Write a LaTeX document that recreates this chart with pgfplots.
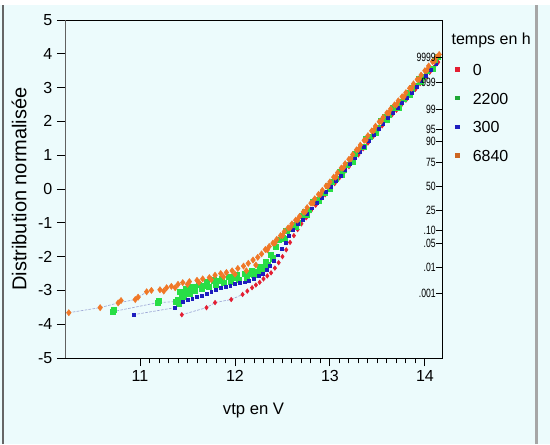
\documentclass[border=0pt]{standalone}
\usepackage{fontspec}
\setmainfont{Liberation Sans}
\usepackage{graphicx}
\usepackage{pgfplots}
\pgfplotsset{compat=1.18}
\definecolor{bgc}{RGB}{236,251,252}
\definecolor{cred}{RGB}{228,30,50}
\definecolor{cgreen}{RGB}{40,222,70}
\definecolor{cblue}{RGB}{30,30,190}
\definecolor{corange}{RGB}{240,120,40}
\definecolor{ctail}{RGB}{160,170,215}
\newcommand{\nl}[1]{\scalebox{0.72}[1]{#1}}
\begin{document}
\begin{tikzpicture}
\fill[bgc] (0,0) rectangle (412.5pt,333pt);
\fill[white] (0,329.25pt) rectangle (412.5pt,333pt);
\draw[gray!80!black, line width=1.5pt] (2.25pt,0) -- (2.25pt,329.25pt);
\draw[gray!70, line width=2.2pt] (402.5pt,0) -- (402.5pt,329.25pt);
\begin{axis}[
  at={(48.75pt,64.5pt)}, anchor=south west,
  scale only axis, width=282.75pt, height=253.5pt,
  xmin=10.21, xmax=14.18, ymin=-5, ymax=5,
  axis line style={black, line width=0.7pt},
  xtick={11,12,13,14}, xticklabels={11,12,13,14},
  ytick={-5,-4,-3,-2,-1,0,1,2,3,4,5},
  yticklabels={-5,-4,-3,-2,-1,0,1,2,3,4,5},
  minor x tick num=9,
  xtick pos=bottom, ytick pos=left,
  tick align=outside, major tick length=6pt, minor tick length=4pt,
  tick style={black, line width=0.7pt},
  ticklabel style={font=\fontsize{12}{14}\selectfont},
  xlabel={vtp en V}, ylabel={Distribution normalisée},
  xlabel style={at={(axis description cs:0.5,-0.154)}, anchor=center, font=\fontsize{12.5}{14}\selectfont},
  ylabel style={at={(axis description cs:-0.122,0.5)}, anchor=center, font=\fontsize{15}{16}\selectfont},
  legend style={at={(rel axis cs:1.035,0.872)}, anchor=north west, draw=none, fill=none,
    inner sep=0pt, row sep=12.5pt, font=\fontsize{12}{14}\selectfont,
    nodes={inner sep=0pt, text height=9pt, text depth=0pt}},
  legend cell align=left,
]
% tail connecting lines
\addplot[ctail, line width=0.5pt, dash pattern=on 2pt off 1pt, forget plot] coordinates {(11.44,-3.72) (11.70,-3.51) (11.79,-3.36) (11.96,-3.27) (12.08,-3.12)};
\addplot[ctail, line width=0.5pt, dash pattern=on 2pt off 1pt, forget plot] coordinates {(10.93,-3.72) (11.37,-3.51) (11.45,-3.33)};
\addplot[ctail, line width=0.5pt, dash pattern=on 2pt off 1pt, forget plot] coordinates {(10.71,-3.63) (11.19,-3.36) (11.38,-3.33) (11.42,-3.20)};
\addplot[ctail, line width=0.5pt, dash pattern=on 2pt off 1pt, forget plot] coordinates {(10.25,-3.66) (10.58,-3.51) (10.77,-3.37) (10.95,-3.27) (11.07,-3.04)};
% 0 h
\addplot[only marks, mark=diamond*, mark size=1.7pt, mark options={draw=cred, fill=cred},
  legend image code/.code={\fill[cred, draw=none] (0pt,-1.6pt) rectangle (3.2pt,1.6pt); \path[draw=none, fill=none] (0pt,0pt) -- (13pt,0pt);}]
coordinates {
(11.44,-3.72) (11.70,-3.51) (11.79,-3.36) (11.96,-3.27) (12.08,-3.12) (12.13,-3.02) (12.18,-2.92)
(12.22,-2.84) (12.26,-2.76) (12.30,-2.66) (12.34,-2.57) (12.38,-2.48) (12.42,-2.34) (12.46,-2.18)
(12.50,-2.00) (12.54,-1.80) (12.58,-1.58) (12.62,-1.38) (12.66,-1.20) (12.70,-1.03)
(12.75,-0.85) (12.80,-0.64) (12.85,-0.48) (12.90,-0.32) (12.95,-0.17) (13.00,-0.01) (13.05,0.16)
(13.10,0.33) (13.15,0.50) (13.20,0.66) (13.25,0.84) (13.30,1.01) (13.35,1.19) (13.40,1.36)
(13.45,1.54) (13.50,1.71) (13.55,1.87) (13.60,2.03) (13.65,2.18) (13.70,2.33) (13.75,2.48)
(13.80,2.63) (13.85,2.79) (13.90,2.95) (13.95,3.12) (14.00,3.28) (14.05,3.45) (14.10,3.62) (14.14,3.75)
};
\addlegendentry{0}
% 2200 h
\addplot[only marks, mark=square*, mark size=1.9pt, mark options={draw=cgreen, fill=cgreen},
  legend image code/.code={\fill[cgreen!75!black, draw=none] (0pt,-1.6pt) rectangle (3.2pt,1.6pt); \path[draw=none, fill=none] (0pt,0pt) -- (13pt,0pt);}]
coordinates {
(10.71,-3.63) (10.72,-3.58) (11.19,-3.36) (11.20,-3.30) (11.38,-3.33)
(11.40,-3.28) (11.42,-3.05) (11.46,-3.18) (11.48,-2.96) (11.52,-3.10) (11.55,-2.88) (11.58,-3.02)
(11.62,-2.82) (11.65,-2.95) (11.70,-2.76) (11.72,-2.90) (11.78,-2.70) (11.80,-2.84) (11.86,-2.65)
(11.88,-2.78) (11.94,-2.60) (11.96,-2.73) (12.02,-2.55) (12.04,-2.68) (12.10,-2.50) (12.12,-2.62)
(12.18,-2.43) (12.20,-2.55) (12.26,-2.30) (12.28,-2.42) (12.32,-2.15) (12.34,-2.25) (12.38,-1.95)
(12.40,-2.05) (12.43,-1.72)
(11.41,-3.38) (11.44,-3.12) (11.50,-3.02) (11.56,-2.95) (11.68,-2.86) (11.84,-2.72) (12.00,-2.62)
(12.16,-2.52) (12.24,-2.45) (12.30,-2.33)
(12.46,-1.49) (12.50,-1.44) (12.54,-1.23) (12.58,-1.19) (12.62,-1.05) (12.66,-0.99) (12.70,-0.80)
(12.74,-0.68) (12.78,-0.61) (12.82,-0.39) (12.86,-0.33) (12.90,-0.18) (12.94,-0.11) (12.98,0.09)
(13.02,0.22) (13.06,0.29) (13.10,0.52) (13.14,0.58) (13.18,0.73) (13.22,0.82) (13.26,1.04)
(13.30,1.17) (13.34,1.25) (13.38,1.48) (13.42,1.55) (13.46,1.71) (13.50,1.80) (13.54,2.01)
(13.58,2.13) (13.62,2.19) (13.66,2.40) (13.70,2.45) (13.74,2.59) (13.78,2.66) (13.82,2.86)
(13.86,2.98) (13.90,3.05) (13.94,3.27) (13.98,3.33) (14.02,3.49) (14.06,3.57) (14.10,3.79) (14.14,3.91)
(12.52,-1.46) (12.64,-1.12) (12.76,-0.76) (12.88,-0.35) (13.00,0.01) (13.12,0.42) (13.24,0.82)
(13.36,1.24) (13.48,1.66) (13.60,2.05) (13.72,2.41) (13.84,2.78) (13.96,3.17) (14.08,3.57)
};
\addlegendentry{2200}
% 300 h
\addplot[only marks, mark=square*, mark size=1.1pt, mark options={draw=cblue, fill=cblue},
  legend image code/.code={\fill[cblue, draw=none] (0pt,-1.6pt) rectangle (3.2pt,1.6pt); \path[draw=none, fill=none] (0pt,0pt) -- (13pt,0pt);}]
coordinates {
(10.93,-3.72) (11.37,-3.51) (11.45,-3.33) (11.50,-3.28) (11.55,-3.24) (11.60,-3.20) (11.65,-3.15)
(11.70,-3.10) (11.75,-3.04) (11.80,-2.98) (11.85,-2.93) (11.90,-2.89) (11.95,-2.85) (12.00,-2.81)
(12.05,-2.78) (12.10,-2.76) (12.15,-2.72) (12.20,-2.66) (12.25,-2.58) (12.29,-2.50) (12.33,-2.40)
(12.37,-2.28) (12.41,-2.13) (12.45,-1.96) (12.49,-1.78) (12.53,-1.58) (12.57,-1.39)
(12.61,-1.20) (12.66,-1.04) (12.71,-0.90) (12.76,-0.73) (12.81,-0.57) (12.86,-0.41) (12.91,-0.25)
(12.96,-0.09) (13.01,0.06) (13.06,0.23) (13.11,0.40) (13.16,0.57) (13.21,0.74) (13.26,0.91)
(13.31,1.09) (13.36,1.26) (13.41,1.44) (13.46,1.61) (13.51,1.78) (13.56,1.94) (13.61,2.10)
(13.66,2.25) (13.71,2.40) (13.76,2.55) (13.81,2.70) (13.86,2.86) (13.91,3.02) (13.96,3.19)
(14.01,3.36) (14.06,3.52) (14.11,3.69)
};
\addlegendentry{300}
% 6840 h
\addplot[only marks, mark=diamond*, mark size=2.3pt, mark options={draw=corange, fill=corange},
  legend image code/.code={\fill[corange!85!black, draw=none] (0pt,-1.6pt) rectangle (3.2pt,1.6pt); \path[draw=none, fill=none] (0pt,0pt) -- (13pt,0pt);}]
coordinates {
(10.25,-3.66) (10.58,-3.51) (10.77,-3.37) (10.80,-3.30) (10.95,-3.27) (10.98,-3.20) (11.07,-3.04)
(11.12,-3.00) (11.21,-2.98) (11.28,-2.92) (11.33,-2.88) (11.40,-2.82) (11.45,-2.77) (11.52,-2.74)
(11.60,-2.70) (11.66,-2.66) (11.73,-2.62) (11.79,-2.55) (11.85,-2.50) (11.91,-2.47) (11.97,-2.42)
(12.03,-2.35) (12.09,-2.28) (12.14,-2.20) (12.19,-2.10) (12.24,-2.02) (12.28,-1.92)
(11.25,-3.02) (11.37,-2.92) (11.50,-2.82) (11.62,-2.76) (11.75,-2.68) (11.88,-2.60) (12.00,-2.52)
(12.12,-2.42) (12.22,-2.25)
(12.32,-1.79) (12.36,-1.70) (12.40,-1.60) (12.44,-1.49) (12.48,-1.38) (12.52,-1.26) (12.56,-1.15)
(12.60,-1.03) (12.64,-0.92) (12.68,-0.81) (12.72,-0.68) (12.76,-0.55) (12.80,-0.42) (12.84,-0.29)
(12.88,-0.16) (12.92,-0.04) (12.96,0.09) (13.00,0.21) (13.04,0.35) (13.08,0.48) (13.12,0.62)
(13.16,0.75) (13.20,0.88) (13.24,1.02) (13.28,1.16) (13.32,1.30) (13.36,1.44) (13.40,1.58)
(13.44,1.72) (13.48,1.86) (13.52,1.99) (13.56,2.12) (13.60,2.25) (13.64,2.37) (13.68,2.49)
(13.72,2.61) (13.76,2.73) (13.80,2.85) (13.84,2.98) (13.88,3.11) (13.92,3.24) (13.96,3.37)
(14.00,3.50) (14.04,3.64) (14.08,3.77) (14.12,3.90) (14.15,3.98)
(12.34,-1.80) (12.42,-1.60) (12.50,-1.38) (12.58,-1.15) (12.66,-0.92) (12.74,-0.68) (12.82,-0.42)
(12.90,-0.16) (12.98,0.09) (13.06,0.35) (13.14,0.62) (13.22,0.89) (13.30,1.17) (13.38,1.45)
(13.46,1.73) (13.54,2.00) (13.62,2.25) (13.70,2.49) (13.78,2.73) (13.86,2.98) (13.94,3.24)
(14.02,3.51) (14.10,3.78)
};
\addlegendentry{6840}
\draw[gray!75!black, line width=2pt] (rel axis cs:0,0) -- (rel axis cs:0,1);
\end{axis}
\begin{axis}[
  at={(48.75pt,64.5pt)}, anchor=south west,
  scale only axis, width=282.75pt, height=253.5pt,
  xmin=10.21, xmax=14.18, ymin=-5, ymax=5,
  axis x line=none, axis y line*=right,
  axis line style={black, line width=0.7pt},
  ytick={-3.1,-2.32,-1.6,-1.22,-0.63,0.08,0.78,1.41,1.77,2.36,3.15,3.9},
  yticklabels={\nl{.001},\nl{.01},\nl{.05},\nl{.10},\nl{25},\nl{50},\nl{75},\nl{90},\nl{95},\nl{99},\nl{999},\nl{9999}},
  tick align=inside, major tick length=4.5pt,
  tick style={black, line width=0.7pt},
  yticklabel style={anchor=east, xshift=-4.5pt, inner sep=0pt, font=\fontsize{9}{10}\selectfont},
]
\end{axis}
\node[font=\fontsize{12}{14}\selectfont, anchor=west, inner sep=0pt] at (338.5pt,303pt) {temps en h};
\pgfresetboundingbox
\useasboundingbox (0,0) rectangle (412.5pt,333pt);
\end{tikzpicture}
\end{document}
